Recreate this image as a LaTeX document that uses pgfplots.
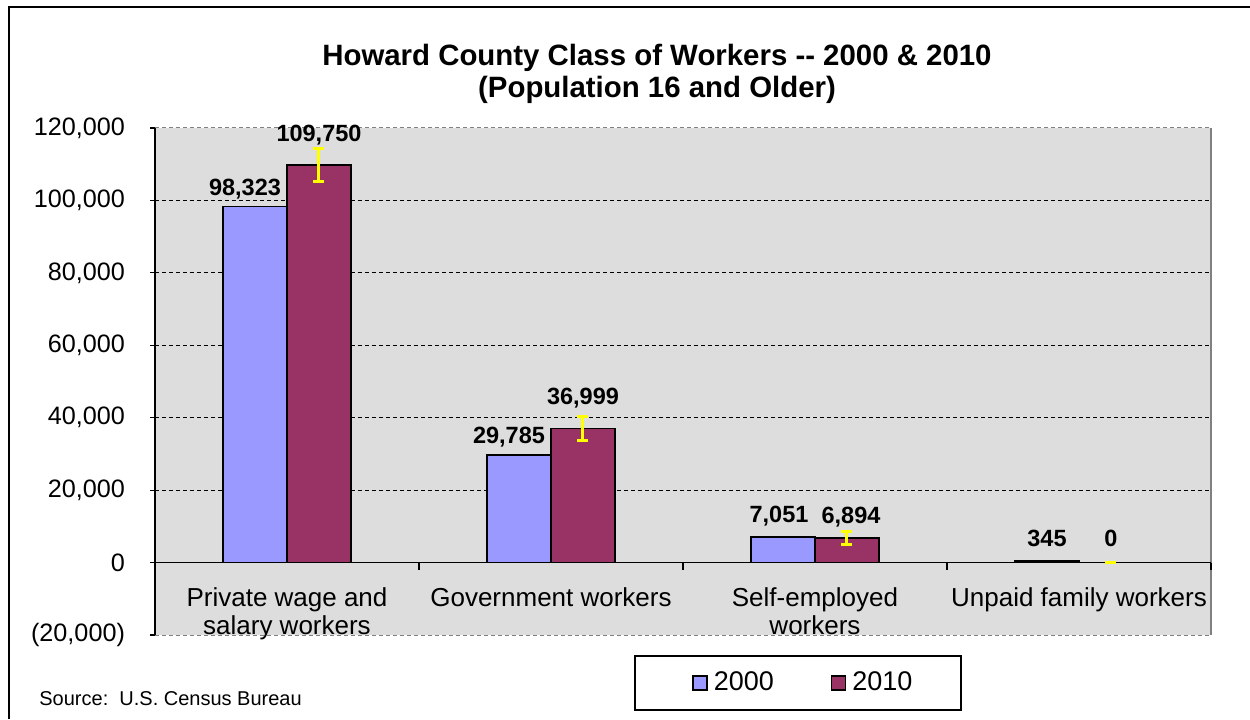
\documentclass[border=0pt]{standalone}
\usepackage{fontspec}
\setmainfont{Liberation Sans}
\usepackage{pgfplots}
\pgfplotsset{compat=1.18}
\usepackage{pgfplotstable}

\definecolor{c2000}{RGB}{153,153,255}
\definecolor{c2010}{RGB}{153,51,102}
\definecolor{plotbg}{RGB}{221,221,221}
\definecolor{errY}{RGB}{255,255,0}
\definecolor{edgegray}{RGB}{128,128,128}

\pgfplotstableread{
x y dx dy
0 98323 -5 5.3
1 29785 -5 5.8
2 7051 -2 7.3
3 345 0 7.5
}\datatwothousand

\pgfplotstableread{
x y err dx dy
0 109750 4500 0 11.8
1 36999 3300 0 11.8
2 6894 1800 2 7.3
3 0 0 0 8.0
}\datatwentyten

\begin{document}
\begin{tikzpicture}
\path[use as bounding box] (0pt,0pt) rectangle (625pt,359.5pt);
\draw[line width=1pt] (4.5pt,0pt) -- (4.5pt,356pt) -- (625pt,356pt);
\node[font=\fontsize{14.7}{16}\selectfont\bfseries, align=center] at (328.5pt,322.5pt)
  {Howard County Class of Workers -{}- 2000 \& 2010\\(Population 16 and Older)};
\node[anchor=west, font=\fontsize{10}{12}\selectfont, inner sep=0pt] at (19.5pt,10pt)
  {Source:\ \ U.S. Census Bureau};
\draw[line width=0.6pt] (317.5pt,4.5pt) rectangle (480.5pt,31.5pt);
\begin{axis}[
  at={(77.5pt,42pt)}, anchor=south west,
  scale only axis, width=528pt, height=253.5pt,
  ybar=0pt, bar width=32pt,
  xmin=-0.5, xmax=3.5, ymin=-20000, ymax=120000,
  scaled y ticks=false,
  xtick={0,1,2,3},
  xticklabels={{Private wage and\\salary workers},{Government workers},{Self-employed\\workers},{Unpaid family workers}},
  xticklabel style={align=center, font=\fontsize{13}{14}\selectfont, anchor=north, yshift=29.8pt},
  major x tick style={draw=none},
  ytick={-20000,0,20000,40000,60000,80000,100000,120000},
  yticklabels={{(20,000)},{0},{20,000},{40,000},{60,000},{80,000},{100,000},{120,000}},
  yticklabel style={font=\fontsize{12.6}{15}\selectfont, xshift=-9pt},
  ytick pos=left,
  tick align=outside, major tick length=2.5pt,
  y tick style={black, line width=0.6pt},
  axis line style={draw=none},
  axis background/.style={fill=plotbg},
  clip=false,
  /pgf/number format/.cd, fixed, precision=0, 1000 sep={,}, assume math mode=true,
  /pgfplots/.cd,
  nodes near coords,
  nodes near coords style={font=\fontsize{11.75}{13}\selectfont\bfseries, anchor=base, xshift=\mydx pt, yshift=\mydy pt},
  visualization depends on={\thisrow{dx} \as \mydx},
  visualization depends on={\thisrow{dy} \as \mydy},
  legend style={at={(0.5085,-0.0947)}, anchor=west, draw=none, fill=none,
    inner xsep=0pt, inner ysep=0pt,
    font=\fontsize{13.5}{15}\selectfont,
    /tikz/every even column/.append style={column sep=26.5pt}},
  legend columns=2,
  legend image code/.code={\draw[#1, line width=0.6pt] (0pt,-3.5pt) rectangle (7pt,3.5pt);
    \path (8pt,0pt);},
]
\draw[edgegray, line width=0.5pt, dash pattern=on 2pt off 1.5pt] (axis cs:-0.5,120000) -- (axis cs:3.5,120000);
\draw[edgegray, line width=0.5pt, dash pattern=on 2pt off 1.5pt] (axis cs:-0.5,-20000) -- (axis cs:3.5,-20000);
\pgfplotsinvokeforeach{20000,40000,60000,80000,100000}{
  \draw[black, line width=0.5pt, dash pattern=on 2pt off 1.5pt] (axis cs:-0.5,#1) -- (axis cs:3.5,#1);
}
\draw[edgegray, line width=0.8pt] (axis cs:3.5,-20000) -- (axis cs:3.5,120000);
\draw[black, line width=0.8pt] (axis cs:-0.5,-20000) -- (axis cs:-0.5,120000);
\draw[black, line width=0.9pt] (axis cs:-0.5,0) -- (axis cs:3.5,0);
\pgfplotsinvokeforeach{0.5,1.5,2.5,3.5}{
  \draw[black, line width=0.8pt] (axis cs:#1,0) -- ++(0pt,-3.5pt);
}

\addplot[fill=c2000, draw=black, line width=0.9pt] table[x=x, y=y] {\datatwothousand};
\addlegendentry{2000}
\addplot[fill=c2010, draw=black, line width=0.9pt,
  error bars/.cd, y dir=both, y explicit,
  error bar style={errY, line width=1.5pt},
  error mark options={errY, line width=1.5pt, mark size=2.75pt, rotate=90}]
  table[x=x, y=y, y error=err] {\datatwentyten};
\addlegendentry{2010}
\end{axis}
\end{tikzpicture}
\end{document}
